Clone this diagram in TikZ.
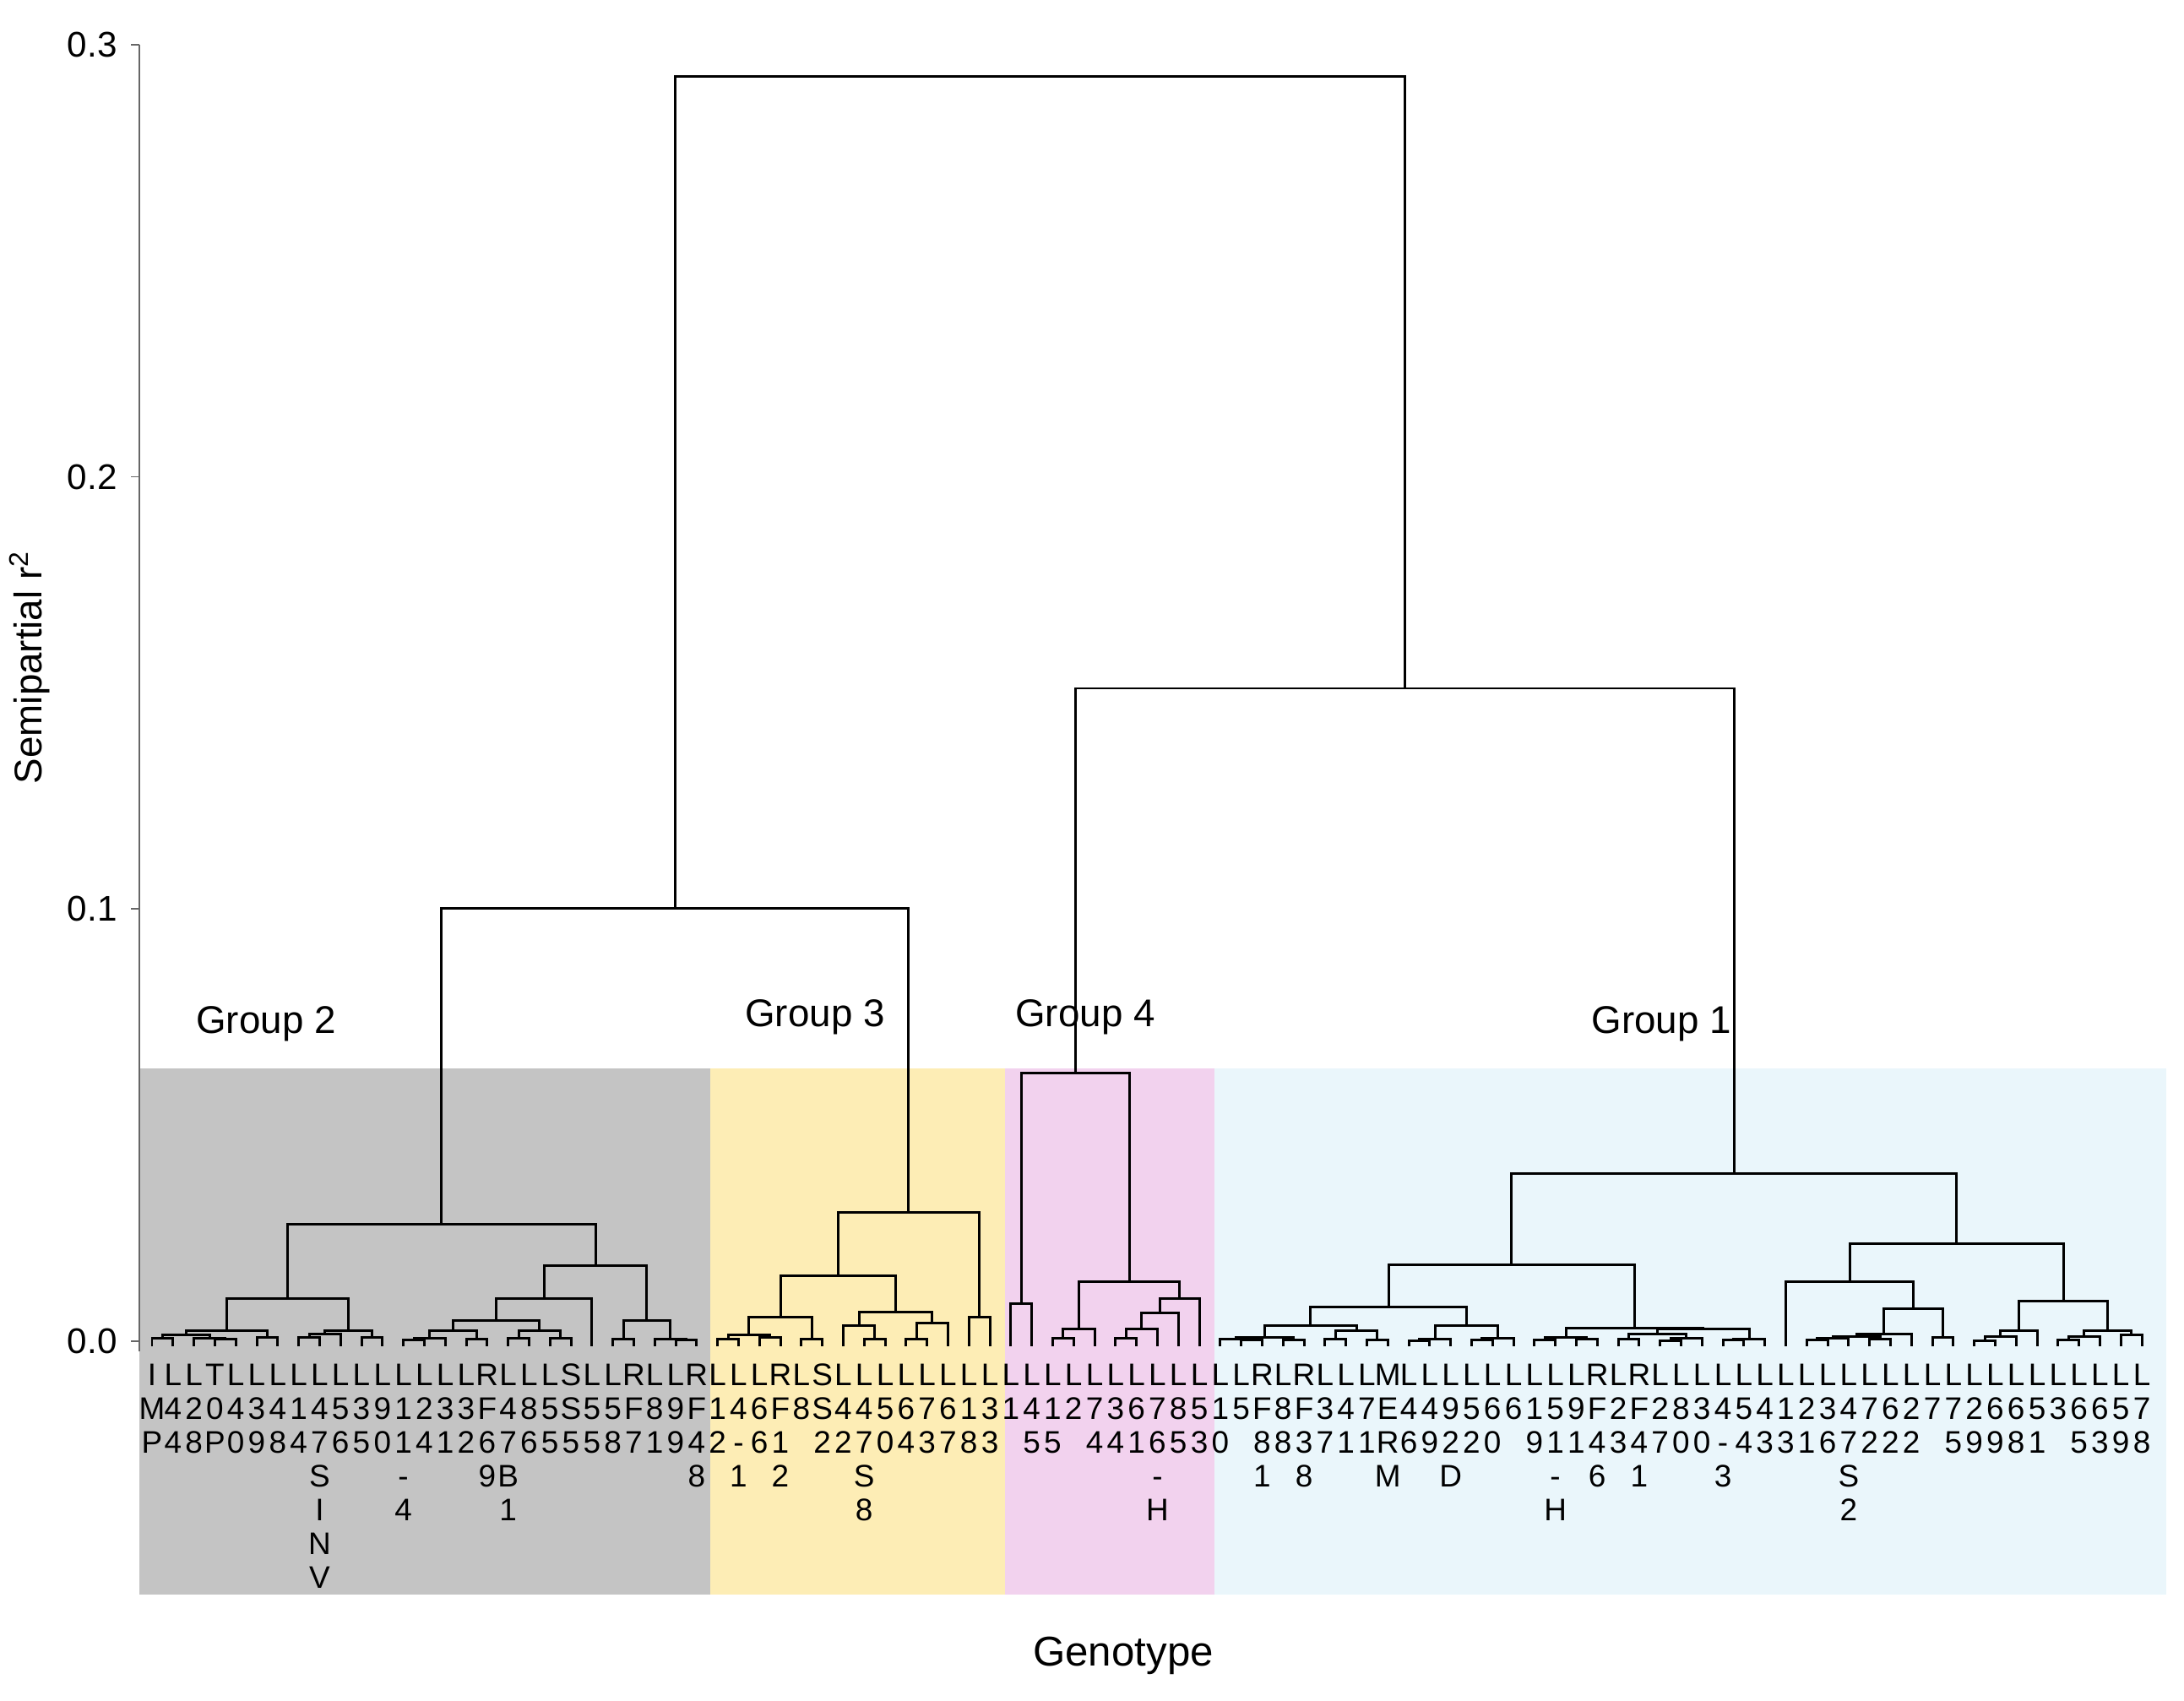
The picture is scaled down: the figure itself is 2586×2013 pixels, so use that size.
\documentclass[tikz,border=0pt]{standalone}
\usepackage{fontspec}
\setmainfont{Liberation Sans}
\usetikzlibrary{calc}
\usetikzlibrary{positioning}

\definecolor{grpgray}{RGB}{196,196,196}
\definecolor{grpyellow}{RGB}{253,237,181}
\definecolor{grppink}{RGB}{242,210,238}
\definecolor{grpblue}{RGB}{234,246,251}

% join two clusters at height #4
\newcommand{\mrg}[4]{%
  \coordinate (#1m) at ($(#2)!0.5!(#3)$);
  \coordinate (#1) at (#1m |- 0,#4);
  \draw[dendro] (#2) |- (#1) -| (#3);}

\begin{document}
\begin{tikzpicture}[
x=0.01cm, y=-0.01cm,
dendro/.style={line width=0.85pt, black},
axis/.style={line width=0.5pt, black!60},
leaflab/.style={anchor=north, align=center, inner sep=0pt,
	font=\fontsize{10.5}{11.4}\selectfont},
ticklab/.style={anchor=east, font=\fontsize{12}{14}\selectfont},
grouplab/.style={font=\fontsize{13}{15}\selectfont},
]
\useasboundingbox (0,0) rectangle (2586,2013);

% group backgrounds
\fill[grpgray] (165,1265) rectangle (841,1888);
\fill[grpyellow] (841,1265) rectangle (1190,1888);
\fill[grppink] (1190,1265) rectangle (1438,1888);
\fill[grpblue] (1438,1265) rectangle (2565,1888);

% axis
\coordinate (ya3) at (165,53);
\coordinate (ya0) at (165,1600);
\draw[axis] (ya3) -- (ya0);
\foreach \v [count=\k from 0] in {0.0,0.1,0.2,0.3} {
  \coordinate (tk\k) at (165,{1588-511.7*\k});
  \draw[axis] (tk\k) -- ++(-10,0);
  \node[ticklab] (tl\k) at ($(tk\k)+(-14,0)$) {\v};
}
\node[rotate=90, font=\fontsize{13}{15}\selectfont] (ylab) at (35,790) {Semipartial r\textsuperscript{2}};
\node[font=\fontsize{14}{16}\selectfont] (xlab) at (1330,1960) {Genotype};

% leaves
\foreach \lab [count=\i] in {
I\\M\\P, L\\4\\4, L\\2\\8, T\\0\\P, L\\4\\0, L\\3\\9, L\\4\\8, L\\1\\4, L\\4\\7\\S\\I\\N\\V,
L\\5\\6, L\\3\\5, L\\9\\0, L\\1\\1\\-\\4, L\\2\\4, L\\3\\1, L\\3\\2, R\\F\\6\\9, L\\4\\7\\B\\1,
L\\8\\6, L\\5\\5, S\\S\\5, L\\5\\5, L\\5\\8, R\\F\\7, L\\8\\1, L\\9\\9, R\\F\\4\\8,
L\\1\\2, L\\4\\-\\1, L\\6\\6, R\\F\\1\\2, L\\8, S\\S\\2, L\\4\\2, L\\4\\7\\S\\8, L\\5\\0,
L\\6\\4, L\\7\\3, L\\6\\7, L\\1\\8, L\\3\\3,
L\\1, L\\4\\5, L\\1\\5, L\\2, L\\7\\4, L\\3\\4, L\\6\\1, L\\7\\6\\-\\H, L\\8\\5, L\\5\\3,
L\\1\\0, L\\5, R\\F\\8\\1, L\\8\\8, R\\F\\3\\8, L\\3\\7, L\\4\\1, L\\7\\1, M\\E\\R\\M,
L\\4\\6, L\\4\\9, L\\9\\2\\D, L\\5\\2, L\\6\\0, L\\6, L\\1\\9, L\\5\\1\\-\\H, L\\9\\1,
R\\F\\4\\6, L\\2\\3, R\\F\\4\\1, L\\2\\7, L\\8\\0, L\\3\\0, L\\4\\-\\3, L\\5\\4, L\\4\\3,
L\\1\\3, L\\2\\1, L\\3\\6, L\\4\\7\\S\\2, L\\7\\2, L\\6\\2, L\\2\\2, L\\7, L\\7\\5,
L\\2\\9, L\\6\\9, L\\6\\8, L\\5\\1, L\\3, L\\6\\5, L\\6\\3, L\\5\\9, L\\7\\8} {
  \coordinate (lf\i) at ({180+24.8*(\i-1)},1594);
  \node[leaflab] (lb\i) at ({180+24.8*(\i-1)},1614) {\lab};
}

% group 2
\mrg{a1}{lf1}{lf2}{1584}
\mrg{a2}{lf4}{lf5}{1585}
\mrg{a3}{lf3}{a2}{1584}
\mrg{a4}{a1}{a3}{1580}
\mrg{a5}{lf6}{lf7}{1583}
\mrg{a6}{a4}{a5}{1575}
\mrg{a7}{lf8}{lf9}{1583}
\mrg{a8}{a7}{lf10}{1579}
\mrg{a9}{lf11}{lf12}{1583}
\mrg{a10}{a8}{a9}{1575}
\mrg{a11}{a6}{a10}{1537}
\mrg{a12}{lf13}{lf14}{1586}
\mrg{a13}{a12}{lf15}{1584}
\mrg{a14}{lf16}{lf17}{1585}
\mrg{a15}{a13}{a14}{1575}
\mrg{a16}{lf18}{lf19}{1584}
\mrg{a17}{lf20}{lf21}{1584}
\mrg{a18}{a16}{a17}{1575}
\mrg{a19}{a15}{a18}{1563}
\mrg{a20}{a19}{lf22}{1537}
\mrg{a21}{lf23}{lf24}{1585}
\mrg{a22}{lf26}{lf27}{1586}
\mrg{a23}{lf25}{a22}{1585}
\mrg{a24}{a21}{a23}{1563}
\mrg{a25}{a20}{a24}{1498}
\mrg{gB}{a11}{a25}{1449}

% group 3
\mrg{b1}{lf28}{lf29}{1585}
\mrg{b2}{lf30}{lf31}{1583}
\mrg{b3}{b1}{b2}{1580}
\mrg{b4}{lf32}{lf33}{1585}
\mrg{b5}{b3}{b4}{1559}
\mrg{b6}{lf35}{lf36}{1585}
\mrg{b7}{lf34}{b6}{1569}
\mrg{b8}{lf37}{lf38}{1585}
\mrg{b9}{b8}{lf39}{1566}
\mrg{b10}{b7}{b9}{1553}
\mrg{b11}{b5}{b10}{1510}
\mrg{b12}{lf40}{lf41}{1559}
\mrg{gC}{b11}{b12}{1435}

% group 4
\mrg{c1}{lf42}{lf43}{1543}
\mrg{c2}{lf44}{lf45}{1584}
\mrg{c3}{c2}{lf46}{1573}
\mrg{c4}{lf47}{lf48}{1584}
\mrg{c5}{c4}{lf49}{1573}
\mrg{c6}{c5}{lf50}{1554}
\mrg{c7}{c6}{lf51}{1537}
\mrg{c8}{c3}{c7}{1517}
\mrg{gD}{c1}{c8}{1270}

% group 1
\mrg{d1}{lf53}{lf54}{1586}
\mrg{d2}{lf52}{d1}{1585}
\mrg{d3}{lf55}{lf56}{1586}
\mrg{d4}{d2}{d3}{1583}
\mrg{d5}{lf57}{lf58}{1585}
\mrg{d6}{lf59}{lf60}{1586}
\mrg{d7}{d5}{d6}{1575}
\mrg{d8}{d4}{d7}{1569}
\mrg{d9}{lf61}{lf62}{1587}
\mrg{d10}{d9}{lf63}{1585}
\mrg{d11}{lf64}{lf65}{1586}
\mrg{d12}{d11}{lf66}{1584}
\mrg{d13}{d10}{d12}{1569}
\mrg{d14}{d8}{d13}{1547}
\mrg{d15}{lf67}{lf68}{1586}
\mrg{d16}{lf69}{lf70}{1585}
\mrg{d17}{d15}{d16}{1583}
\mrg{d18}{lf71}{lf72}{1585}
\mrg{d19}{lf73}{lf74}{1587}
\mrg{d20}{d19}{lf75}{1584}
\mrg{d21}{d18}{d20}{1579}
\mrg{d22}{lf76}{lf77}{1586}
\mrg{d23}{d22}{lf78}{1585}
\mrg{d24}{d21}{d23}{1573}
\mrg{d25}{d17}{d24}{1572}
\mrg{d26}{d14}{d25}{1497}
\mrg{e1}{lf80}{lf81}{1586}
\mrg{e2}{e1}{lf82}{1584}
\mrg{e3}{lf83}{lf84}{1585}
\mrg{e4}{e2}{e3}{1582}
\mrg{e5}{e4}{lf85}{1579}
\mrg{e6}{lf86}{lf87}{1583}
\mrg{e7}{e5}{e6}{1549}
\mrg{e8}{lf79}{e7}{1517}
\mrg{e9}{lf88}{lf89}{1587}
\mrg{e10}{e9}{lf90}{1582}
\mrg{e11}{e10}{lf91}{1575}
\mrg{e12}{lf92}{lf93}{1586}
\mrg{e13}{e12}{lf94}{1582}
\mrg{e14}{lf95}{lf96}{1580}
\mrg{e15}{e13}{e14}{1575}
\mrg{e16}{e11}{e15}{1540}
\mrg{e17}{e8}{e16}{1472}
\mrg{gA}{d26}{e17}{1389}

% top of the tree
\mrg{m1}{gB}{gC}{1075}
\mrg{m2}{gD}{gA}{815}
\mrg{root}{m1}{m2}{91}

\node[grouplab] (g2) at (315,1212) {Group 2};
\node[grouplab] (g3) at (965,1204) {Group 3};
\node[grouplab] (g4) at (1285,1204) {Group 4};
\node[grouplab] (g1) at (1967,1212) {Group 1};
\end{tikzpicture}
\end{document}
